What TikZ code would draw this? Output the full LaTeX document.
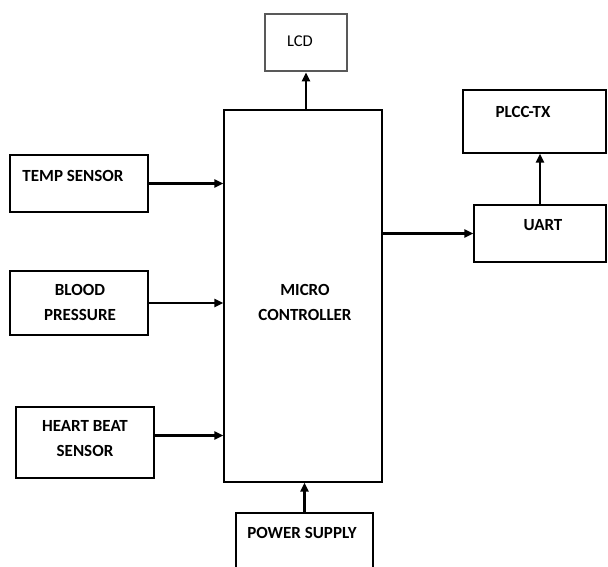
\documentclass[tikz,border=0pt]{standalone}
\usepackage{fontspec}
\setmainfont{Carlito}
\usetikzlibrary{arrows.meta}

\tikzset{
    blk/.style={draw, line width=1.3pt, minimum width=#1, inner sep=0pt},
    lbl/.style={font=\fontsize{17}{20}\selectfont\bfseries, align=center, inner sep=0pt},
    link/.style={-{Triangle[length=9pt,width=8pt]}, line width=2.8pt},
}

\begin{document}
\begin{tikzpicture}[x=1pt, y=-1pt]
    \clip (0,0) rectangle (608,567);

    % blocks
    \node[blk=82pt, minimum height=57pt, draw=black!65, line width=2.8pt] (lcd) at (306,42.5) {};
    \node[blk=158pt, minimum height=372pt] (micro) at (303,296) {};
    \node[blk=143pt, minimum height=63pt] (plcc) at (534.5,121.5) {};
    \node[blk=132pt, minimum height=57pt] (uart) at (540,233.5) {};
    \node[blk=138pt, minimum height=57pt] (temp) at (79,183.5) {};
    \node[blk=138pt, minimum height=64pt] (blood) at (79,303) {};
    \node[blk=138pt, minimum height=71pt] (heart) at (85,442.5) {};
    \node[blk=137pt, minimum height=70pt] (power) at (304.5,548) {};

    % texts
    \node[font=\fontsize{16.5}{20}\selectfont, inner sep=0pt] (lcd-txt) at (300,41) {LCD};
    \node[lbl] (micro-txt) at (305,302) {MICRO\\[5pt]CONTROLLER};
    \node[lbl] (plcc-txt) at (523,112) {PLCC-TX};
    \node[lbl] (uart-txt) at (543,225) {UART};
    \node[lbl] (temp-txt) at (73,176) {TEMP SENSOR};
    \node[lbl] (blood-txt) at (80,302) {BLOOD\\[5pt]PRESSURE};
    \node[lbl] (heart-txt) at (85,439) {HEART BEAT\\[5pt]SENSOR};
    \node[lbl] (power-txt) at (302,533) {POWER SUPPLY};

    % connections
    \draw[link] (temp.east) -- (temp.east -| micro.west);
    \draw[link] (blood.east) -- (blood.east -| micro.west);
    \draw[link] ([yshift=7pt]heart.east) -- ([yshift=7pt]heart.east -| micro.west);
    \draw[link] (power.north) -- (power.north |- micro.south);
    \draw[link] (lcd.south |- micro.north) -- (lcd.south);
    \draw[link] (uart.west -| micro.east) -- (uart.west);
    \draw[link] (uart.north) -- (uart.north |- plcc.south);
\end{tikzpicture}
\end{document}
